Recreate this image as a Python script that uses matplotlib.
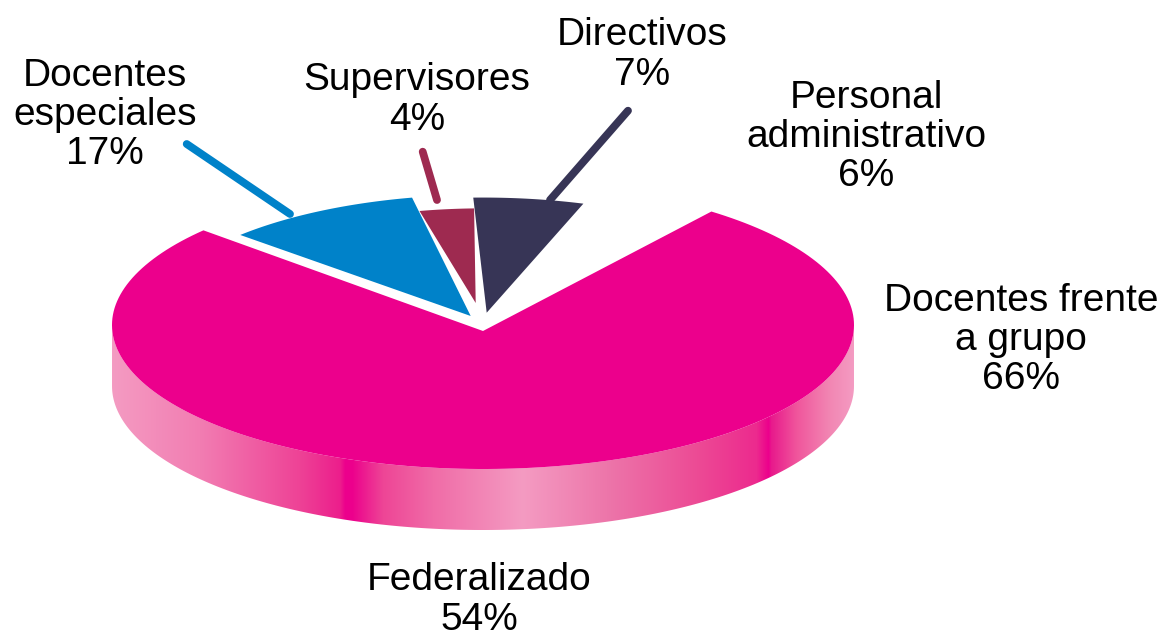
import numpy as np
import matplotlib
matplotlib.use("Agg")
import matplotlib.pyplot as plt
from matplotlib.colors import LinearSegmentedColormap
from matplotlib.patches import Polygon

# printed labels
categories = ["Docentes frente\na grupo", "Docentes\nespeciales", "Supervisores", "Directivos", "Personal\nadministrativo"]
percent = [66, 17, 4, 7, 6]
footer_label = "Federalizado"
footer_percent = 54

# sweep of the drawn slices in degrees (not proportional to the printed %)
slice_names = ["Docentes frente", "Docentes especiales", "Supervisores", "Directivos"]
slice_sweep = [273.1, 34.1, 10.5, 19.5]
slice_gap = [0, 2.6, 0, 0]

colors = ["#EC008C", "#0082C9", "#9E2A50", "#373556"]
start_angle = 38.0  # clockwise from 12 o'clock
cx, cy, rx, ry = 483, 325, 371, 144
depth = 61
radius = [1.0, 0.905, 0.81, 0.885]
apex = [(483, 331), (470.7, 316), (475.7, 303), (486.7, 312.7)]

fig = plt.figure(figsize=(11.62, 6.37), dpi=100)
ax = fig.add_axes([0, 0, 1, 1])
ax.set_axis_off()


def arc(a0, a1, r=1.0, x0=cx, y0=cy):
    t = np.radians(np.linspace(a0, a1, 200))
    return np.column_stack([x0 + r * rx * np.sin(t), y0 - r * ry * np.cos(t)])


# side wall with its gradient
stops = [(112, "#F49BC2"), (200, "#F27DB2"), (300, "#EE4296"), (340, "#EC1E8C"), (345, "#EC008C"),
         (352, "#EC008C"), (383, "#EE4596"), (433, "#F06CA7"), (523, "#F49BC2"), (607, "#ED76AA"),
         (697, "#EC4B95"), (757, "#EC2A8E"), (769, "#EC008C"), (772, "#E81A8C"), (797, "#F0559C"),
         (830, "#F286B3"), (854, "#F49BC2")]
xs = np.array([s[0] for s in stops], dtype=float)
cmap = LinearSegmentedColormap.from_list("side", [((x - xs[0]) / (xs[-1] - xs[0]), c) for x, c in stops], N=742)
top_edge = arc(90, 270)
side = np.vstack([top_edge, arc(270, 90, y0=cy + depth)])
img = ax.imshow(np.linspace(0, 1, 742)[None, :], cmap=cmap, extent=(112, 854, cy + ry + depth + 2, cy - 2),
                aspect="auto", zorder=1)
img.set_clip_path(Polygon(side, transform=ax.transData))

# leader lines, behind the slices
leaders = [((186.7, 144), (290, 214), colors[1]), ((422.7, 151.7), (437, 200), colors[2]), ((628, 110.7), (550, 200), colors[3])]
for p, q, c in leaders:
    ax.plot([p[0], q[0]], [p[1], q[1]], color=c, lw=5.6, solid_capstyle="round", zorder=2)

# slices, clockwise from the start angle
a = start_angle
for i, sweep in enumerate(slice_sweep):
    a += slice_gap[i]
    pts = np.vstack([arc(a, a + sweep, radius[i]), apex[i]])
    ax.fill(pts[:, 0], pts[:, 1], color=colors[i], lw=0, zorder=3)
    a += sweep

# labels
label_pos = [(1021, 340), (105, 115), (417, 100), (642, 55), (866, 137)]
for name, pct, (x, y) in zip(categories, percent, label_pos):
    ax.text(x, y, f"{name}\n{pct}%", ha="center", va="center", fontsize=28, family="Liberation Sans",
            color="black", linespacing=1.12, zorder=4)
ax.text(479, 600, f"{footer_label}\n{footer_percent}%", ha="center", va="center", fontsize=28,
        family="Liberation Sans", color="black", linespacing=1.12, zorder=4)

ax.set_xlim(0, 1162)
ax.set_ylim(637, 0)
fig.savefig("out.png", dpi=100, facecolor="white")
